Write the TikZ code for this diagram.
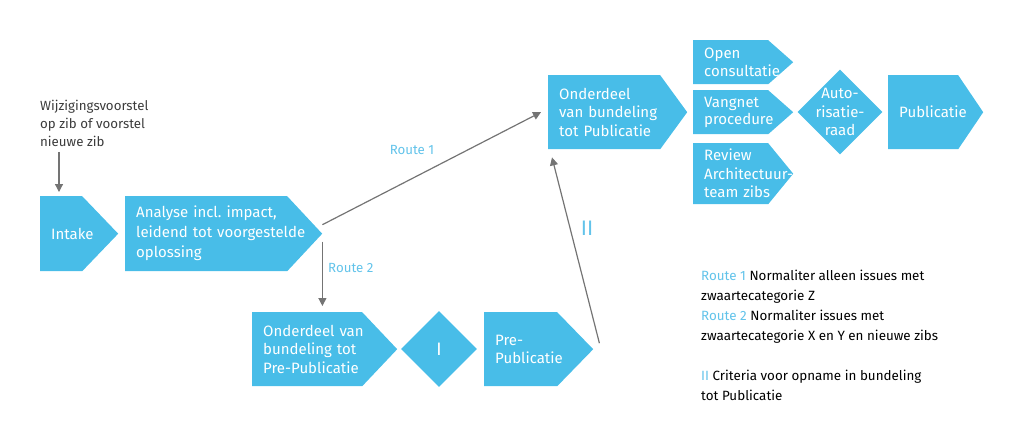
\documentclass[tikz,border=0pt]{standalone}
\usepackage{fontspec}
\setmainfont{Fira Sans}
\frenchspacing
\usetikzlibrary{arrows.meta,shapes.geometric}
\definecolor{zibblauw}{HTML}{48BDE8}
\definecolor{routeblauw}{HTML}{62C3EA}
\definecolor{pijlgrijs}{HTML}{747474}
\definecolor{tekstgrijs}{HTML}{3C3C3C}
\tikzset{
  punt/.store in=\puntdiepte, punt=30pt,
  stap/.style={shape=rectangle, anchor=north west, inner xsep=11pt, inner ysep=0pt,
    text width=#1, align=left, text=white, font=\fontsize{15}{18.5}\selectfont,
    path picture={\fill[zibblauw] (path picture bounding box.north west)
      -- ([xshift=-\puntdiepte]path picture bounding box.north east)
      -- (path picture bounding box.east)
      -- ([xshift=-\puntdiepte]path picture bounding box.south east)
      -- (path picture bounding box.south west) -- cycle;}},
  klein/.style={font=\fontsize{15}{17.5}\selectfont},
  ruit/.style={diamond, aspect=1, fill=zibblauw, inner sep=0pt, minimum size=#1},
  ruittekst/.style={align=center, text=white, inner sep=0pt, font=\fontsize{15}{18.5}\selectfont},
  pijl/.style={draw=pijlgrijs, line width=1.2pt, -{Triangle[length=8pt,width=8pt]}},
  route/.style={text=routeblauw, inner sep=0pt, font=\fontsize{13.3}{15}\selectfont},
  notitie/.style={align=left, inner sep=0pt, anchor=north west}
}
\begin{document}
\begin{tikzpicture}[x=1pt,y=-1pt]
  \useasboundingbox (0,0) rectangle (1024,426);
  % invoer
  \node[notitie, text=tekstgrijs, font=\fontsize{13.3}{18}\selectfont] (voorstel) at (40,100)
    {Wijzigingsvoorstel\\op zib of voorstel\\nieuwe zib};
  % bovenste rij
  \node[stap=56pt, punt=36pt, minimum height=75pt] (intake) at (40,196) {Intake};
  \node[stap=175pt, punt=35pt, minimum height=75pt, font=\fontsize{15}{20}\selectfont] (analyse) at (125,196)
    {Analyse incl. impact,\\leidend tot voorgestelde\\oplossing};
  \node[stap=117pt, punt=27pt, minimum height=74pt] (pubdeel) at (548,75)
    {Onderdeel\\van bundeling\\tot Publicatie};
  \node[stap=78pt, punt=25pt, minimum height=44pt, klein] (open) at (693,40) {Open\\consultatie};
  \node[stap=78pt, punt=25pt, minimum height=44pt, klein] (vangnet) at (693,90) {Vangnet\\procedure};
  \node[stap=78pt, punt=25pt, minimum height=61pt] (review) at (693,143)
    {Review\\\mbox{Architectuur-}\\team zibs};
  \node[ruit=85pt] (raad) at (840,112) {};
  \node[ruittekst] (raadtekst) at (raad.center) {Auto-\\risatie-\\raad};
  \node[stap=73pt, punt=25pt, minimum height=74pt] (publicatie) at (888,75) {Publicatie};
  % onderste rij
  \node[stap=123pt, punt=35pt, minimum height=74pt] (prepubdeel) at (252,312)
    {Onderdeel van\\bundeling tot\\Pre-Publicatie};
  \node[ruit=76pt] (criterium) at (439,349) {};
  \node[ruittekst, font=\fontsize{18}{19}\selectfont] (criteriumtekst) at (criterium.center) {I};
  \node[stap=87pt, punt=36pt, minimum height=74pt] (prepub) at (484,312) {Pre-\\Publicatie};
  % verbindingen
  \coordinate (invoer) at ([xshift=19pt]intake.north west);
  \draw[pijl, shorten <=5pt, shorten >=4pt] (invoer |- voorstel.south) -- (invoer);
  \draw[pijl] ([yshift=9pt]analyse.east) -- ([xshift=-7pt]pubdeel.west);
  \coordinate (splits) at ([yshift=-8pt]analyse.east);
  \draw[pijl, shorten >=6pt] (splits) -- (splits |- prepubdeel.north);
  \draw[pijl] ([shift={(6pt,6pt)}]prepub.east) -- ([shift={(4pt,-8pt)}]pubdeel.south west);
  \node[route] (route1) at (412,150) {Route 1};
  \node[route, anchor=west] (route2) at (328,268) {Route 2};
  \node[route, font=\fontsize{21}{21}\selectfont] (twee) at (587,228) {II};
  % legenda
  \node[notitie, text=black, font=\fontsize{13.4}{20}\selectfont] (legenda) at (701,270)
    {\textcolor{routeblauw}{Route 1} Normaliter alleen issues met\\
     zwaartecategorie Z\\
     \textcolor{routeblauw}{Route 2} Normaliter issues met\\
     zwaartecategorie X en Y en nieuwe zibs\\[20pt]
     \textcolor{routeblauw}{II} Criteria voor opname in bundeling\\
     tot Publicatie};
\end{tikzpicture}
\end{document}
